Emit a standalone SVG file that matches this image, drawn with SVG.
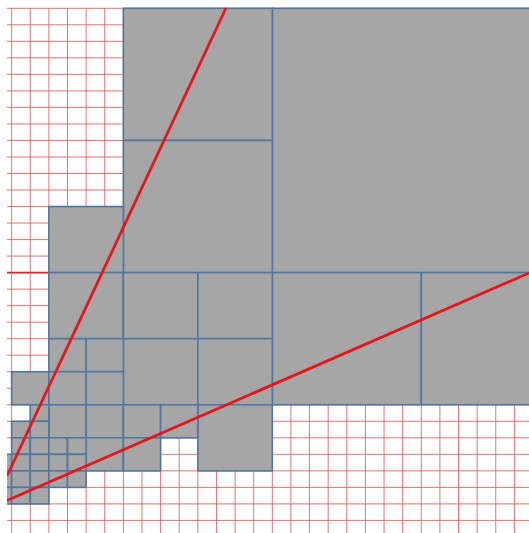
<svg xmlns="http://www.w3.org/2000/svg" width="529" height="533" viewBox="0 0 529 533">
<style>
.grid{fill:none;stroke:#e05a5a;stroke-width:1;stroke-opacity:0.85}
.c{fill:#a6a6a6;stroke:#4f76a0;stroke-width:1.6}
.ray{stroke:#e3161d;stroke-width:2.8;stroke-linecap:butt;fill:none}
</style>
<defs>
<clipPath id="view"><rect x="7" y="0" width="522" height="533"/></clipPath>
</defs>
<rect x="0" y="0" width="529" height="533" fill="#ffffff"/>
<g clip-path="url(#view)">
<g id="grid">
<path class="grid" d="M11.64 8.3V533M30.26 8.3V533M48.88 8.3V533M67.5 8.3V533M86.12 8.3V533M104.74 8.3V533M123.36 8.3V533M141.98 8.3V533M160.6 8.3V533M179.22 8.3V533M197.84 8.3V533M216.46 8.3V533M235.08 8.3V533M253.7 8.3V533M272.32 8.3V533M290.94 8.3V533M309.56 8.3V533M328.18 8.3V533M346.8 8.3V533M365.42 8.3V533M384.04 8.3V533M402.66 8.3V533M421.28 8.3V533M439.9 8.3V533M458.52 8.3V533M477.14 8.3V533M495.76 8.3V533M514.38 8.3V533
M7 8.3H529M7 24.82H529M7 41.34H529M7 57.86H529M7 74.38H529M7 90.9H529M7 107.42H529M7 123.94H529M7 140.46H529M7 156.98H529M7 173.5H529M7 190.02H529M7 206.54H529M7 223.06H529M7 239.58H529M7 256.1H529M7 272.62H529M7 289.14H529M7 305.66H529M7 322.18H529M7 338.7H529M7 355.22H529M7 371.74H529M7 388.26H529M7 404.78H529M7 421.3H529M7 437.82H529M7 454.34H529M7 470.86H529M7 487.38H529M7 503.9H529M7 520.42H529"/>
<path d="M7 272.62H48.88" stroke="#d42a2a" stroke-width="1.6" fill="none"/>
</g>
<g id="cells">
<rect id="c16_0_16" class="c" x="272.32" y="8.3" width="297.92" height="264.32"/>
<rect id="c8_0_8" class="c" x="123.36" y="8.3" width="148.96" height="132.16"/>
<rect id="c8_8_8" class="c" x="123.36" y="140.46" width="148.96" height="132.16"/>
<rect id="c16_16_8" class="c" x="272.32" y="272.62" width="148.96" height="132.16"/>
<rect id="c24_16_8" class="c" x="421.28" y="272.62" width="148.96" height="132.16"/>
<rect id="c4_12_4" class="c" x="48.88" y="206.54" width="74.48" height="66.08"/>
<rect id="c4_16_4" class="c" x="48.88" y="272.62" width="74.48" height="66.08"/>
<rect id="c8_16_4" class="c" x="123.36" y="272.62" width="74.48" height="66.08"/>
<rect id="c12_16_4" class="c" x="197.84" y="272.62" width="74.48" height="66.08"/>
<rect id="c8_20_4" class="c" x="123.36" y="338.7" width="74.48" height="66.08"/>
<rect id="c12_20_4" class="c" x="197.84" y="338.7" width="74.48" height="66.08"/>
<rect id="c12_24_4" class="c" x="197.84" y="404.78" width="74.48" height="66.08"/>
<rect id="c4_20_2" class="c" x="48.88" y="338.7" width="37.24" height="33.04"/>
<rect id="c6_20_2" class="c" x="86.12" y="338.7" width="37.24" height="33.04"/>
<rect id="c2_22_2" class="c" x="11.64" y="371.74" width="37.24" height="33.04"/>
<rect id="c4_22_2" class="c" x="48.88" y="371.74" width="37.24" height="33.04"/>
<rect id="c6_22_2" class="c" x="86.12" y="371.74" width="37.24" height="33.04"/>
<rect id="c4_24_2" class="c" x="48.88" y="404.78" width="37.24" height="33.04"/>
<rect id="c6_24_2" class="c" x="86.12" y="404.78" width="37.24" height="33.04"/>
<rect id="c8_24_2" class="c" x="123.36" y="404.78" width="37.24" height="33.04"/>
<rect id="c10_24_2" class="c" x="160.6" y="404.78" width="37.24" height="33.04"/>
<rect id="c6_26_2" class="c" x="86.12" y="437.82" width="37.24" height="33.04"/>
<rect id="c8_26_2" class="c" x="123.36" y="437.82" width="37.24" height="33.04"/>
<rect id="c3_24" class="c" x="30.26" y="404.78" width="18.62" height="16.52"/>
<rect id="c2_25" class="c" x="11.64" y="421.3" width="18.62" height="16.52"/>
<rect id="c3_25" class="c" x="30.26" y="421.3" width="18.62" height="16.52"/>
<rect id="c2_26" class="c" x="11.64" y="437.82" width="18.62" height="16.52"/>
<rect id="c3_26" class="c" x="30.26" y="437.82" width="18.62" height="16.52"/>
<rect id="c4_26" class="c" x="48.88" y="437.82" width="18.62" height="16.52"/>
<rect id="c5_26" class="c" x="67.5" y="437.82" width="18.62" height="16.52"/>
<rect id="c1_27" class="c" x="-6.98" y="454.34" width="18.62" height="16.52"/>
<rect id="c2_27" class="c" x="11.64" y="454.34" width="18.62" height="16.52"/>
<rect id="c3_27" class="c" x="30.26" y="454.34" width="18.62" height="16.52"/>
<rect id="c4_27" class="c" x="48.88" y="454.34" width="18.62" height="16.52"/>
<rect id="c5_27" class="c" x="67.5" y="454.34" width="18.62" height="16.52"/>
<rect id="c1_28" class="c" x="-6.98" y="470.86" width="18.62" height="16.52"/>
<rect id="c2_28" class="c" x="11.64" y="470.86" width="18.62" height="16.52"/>
<rect id="c3_28" class="c" x="30.26" y="470.86" width="18.62" height="16.52"/>
<rect id="c4_28" class="c" x="48.88" y="470.86" width="18.62" height="16.52"/>
<rect id="c5_28" class="c" x="67.5" y="470.86" width="18.62" height="16.52"/>
<rect id="c1_29" class="c" x="-6.98" y="487.38" width="18.62" height="16.52"/>
<rect id="c2_29" class="c" x="11.64" y="487.38" width="18.62" height="16.52"/>
<rect id="c3_29" class="c" x="30.26" y="487.38" width="18.62" height="16.52"/>
</g>
<g id="connectors">
<line class="ray" x1="7" y1="476" x2="226" y2="8"/>
<line class="ray" x1="7" y1="500.5" x2="529" y2="273"/>
</g>
</g>
</svg>
